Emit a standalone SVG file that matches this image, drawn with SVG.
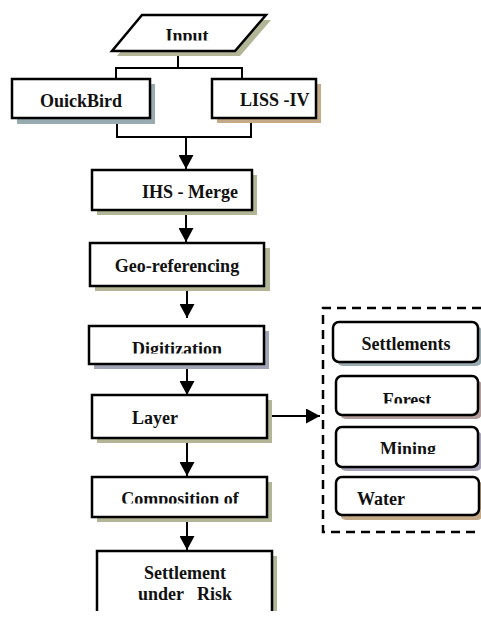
<svg xmlns="http://www.w3.org/2000/svg" width="481" height="619" viewBox="0 0 481 619">
<defs>
<style>
.box{fill:#fff;stroke:#000;stroke-width:2.5}
.rbox{fill:#fff;stroke:#000;stroke-width:2.5}
.t{font-family:"Liberation Serif","Times New Roman",serif;font-weight:bold;font-size:18px;fill:#111}
.m{text-anchor:middle}
.ln{fill:none;stroke:#000;stroke-width:2}
.dash{fill:none;stroke:#000;stroke-width:2.5;stroke-dasharray:9 6}
.sh-olive{fill:#b3b597}
.sh-blue{fill:#98abb0}
.sh-tan{fill:#c4aa88}
.sh-gray{fill:#a2a5b5}
.sh-mauve{fill:#b39c9c}
.sh-lav{fill:#aaa5ba}
</style>
<marker id="ah" viewBox="0 0 14 15" refX="14" refY="7.5" markerWidth="14" markerHeight="15" markerUnits="userSpaceOnUse" orient="auto">
<path d="M0,0 L14,7.5 L0,15 Z" fill="#000"/>
</marker>
<clipPath id="cInput"><rect x="100" y="0" width="200" height="40.5"/></clipPath>
<clipPath id="cDig"><rect x="90" y="326" width="170" height="27.5"/></clipPath>
<clipPath id="cComp"><rect x="90" y="477" width="170" height="26.5"/></clipPath>
<clipPath id="cForest"><rect x="336" y="376" width="140" height="27.5"/></clipPath>
<clipPath id="cMining"><rect x="336" y="427" width="140" height="27"/></clipPath>
</defs>

<g id="connectors">
<path class="ln" d="M178,51 V68 M116,68 H242 M116,67 V79 M242,67 V79"/>
<path class="ln" d="M117,119 V137 M251,118 V137 M116,137 H252"/>
<path class="ln" d="M186,137 V169" marker-end="url(#ah)"/>
<path class="ln" d="M186,210 V242" marker-end="url(#ah)"/>
<path class="ln" d="M187,286 V318" marker-end="url(#ah)"/>
<path class="ln" d="M187,364 V395" marker-end="url(#ah)"/>
<path class="ln" d="M187,438 V476" marker-end="url(#ah)"/>
<path class="ln" d="M187,517 V550" marker-end="url(#ah)"/>
<path class="ln" d="M267,416 H320" marker-end="url(#ah)"/>
</g>

<g id="input">
<polygon class="sh-olive" points="147,20 271,20 240,56 117,56"/>
<polygon class="box" points="142,15 266,15 235,51 112,51"/>
<text class="t m" x="187" y="42" clip-path="url(#cInput)">Input</text>
</g>

<g id="quickbird">
<rect class="sh-blue" x="17" y="84" width="138" height="40"/>
<rect class="box" x="12" y="79" width="138" height="39"/>
<text class="t m" x="81" y="107">OuickBird</text>
</g>

<g id="liss">
<rect class="sh-tan" x="217" y="84" width="104" height="39"/>
<rect class="box" x="212" y="79" width="104" height="39"/>
<text class="t" x="240" y="106">LISS -IV</text>
</g>

<g id="ihs">
<rect class="sh-olive" x="97" y="175" width="160" height="40"/>
<rect class="box" x="92" y="170" width="160" height="40"/>
<text class="t m" x="190" y="198">IHS - Merge</text>
</g>

<g id="geo">
<rect class="sh-olive" x="95" y="248" width="175" height="43"/>
<rect class="box" x="90" y="243" width="174" height="43"/>
<text class="t m" x="177" y="272">Geo-referencing</text>
</g>

<g id="digitization">
<rect class="sh-gray" x="94" y="331" width="175" height="38"/>
<rect class="box" x="89" y="326" width="175" height="38"/>
<text class="t m" x="177" y="355" clip-path="url(#cDig)">Digitization</text>
</g>

<g id="layer">
<rect class="sh-olive" x="97" y="400" width="175" height="43"/>
<rect class="box" x="92" y="395" width="175" height="43"/>
<text class="t" x="132" y="424">Layer</text>
</g>

<g id="composition">
<rect class="sh-olive" x="97" y="482" width="175" height="40"/>
<rect class="box" x="92" y="477" width="175" height="40"/>
<text class="t m" x="180" y="505" clip-path="url(#cComp)">Composition of</text>
</g>

<g id="settlement-risk">
<rect class="sh-olive" x="272" y="556" width="5" height="55"/>
<path class="box" d="M97,611 V551 H272 V611" fill="#fff"/>
<text class="t m" x="185" y="579">Settlement</text>
<text class="t m" x="185" y="600" xml:space="preserve">under   Risk</text>
</g>

<g id="layers-group">
<path class="dash" d="M481,308 H323 V532 H481"/>
</g>

<g id="settlements">
<rect class="sh-blue" x="337" y="326" width="145" height="40" rx="6"/>
<rect class="rbox" x="333" y="322" width="145" height="40" rx="6"/>
<text class="t m" x="406" y="350">Settlements</text>
</g>

<g id="forest">
<rect class="sh-mauve" x="340" y="380" width="142" height="39" rx="6"/>
<rect class="rbox" x="336" y="376" width="142" height="39" rx="6"/>
<text class="t m" x="407" y="406" clip-path="url(#cForest)">Forest</text>
</g>

<g id="mining">
<rect class="sh-lav" x="340" y="431" width="142" height="40" rx="6"/>
<rect class="rbox" x="336" y="427" width="142" height="40" rx="6"/>
<text class="t m" x="408" y="455" clip-path="url(#cMining)">Mining</text>
</g>

<g id="water">
<rect class="sh-tan" x="340" y="481" width="143" height="39" rx="6"/>
<rect class="rbox" x="336" y="477" width="143" height="38" rx="6"/>
<text class="t" x="357" y="505">Water</text>
</g>
</svg>
